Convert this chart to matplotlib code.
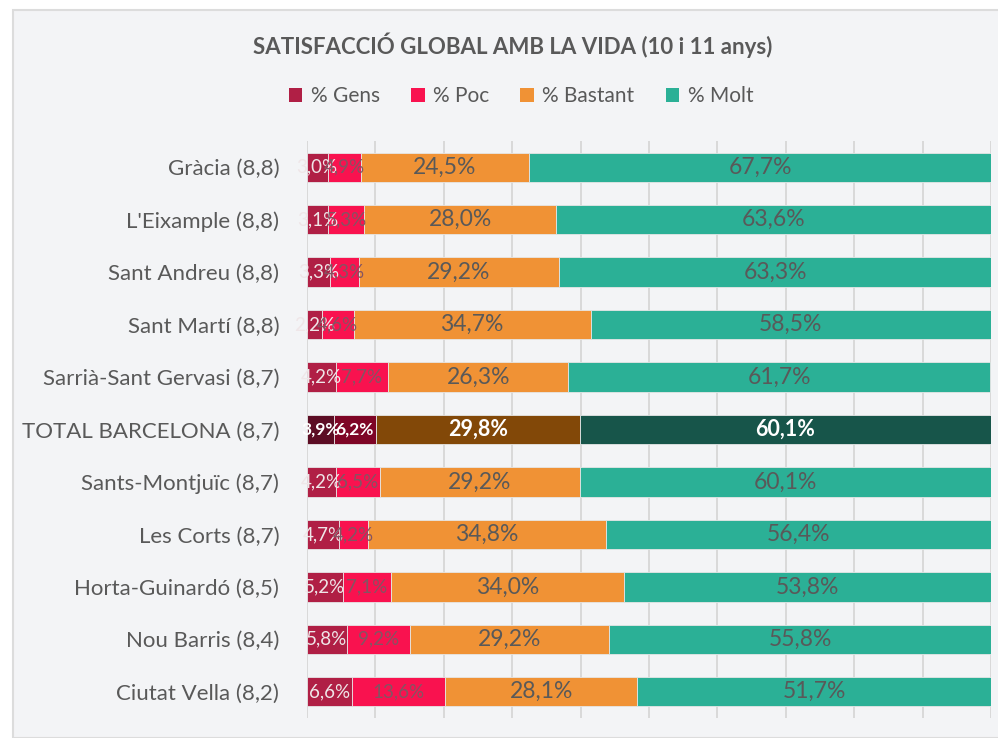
import matplotlib.pyplot as plt
from matplotlib.patches import Rectangle, Patch

plt.rcParams['font.family'] = ['Lato', 'DejaVu Sans']

categories = ['Gràcia (8,8)', "L'Eixample (8,8)", 'Sant Andreu (8,8)', 'Sant Martí (8,8)',
              'Sarrià-Sant Gervasi (8,7)', 'TOTAL BARCELONA (8,7)', 'Sants-Montjuïc (8,7)',
              'Les Corts (8,7)', 'Horta-Guinardó (8,5)', 'Nou Barris (8,4)', 'Ciutat Vella (8,2)']
gens = [3.0, 3.1, 3.3, 2.2, 4.2, 3.9, 4.2, 4.7, 5.2, 5.8, 6.6]
poc = [4.9, 5.3, 4.3, 4.6, 7.7, 6.2, 6.5, 4.2, 7.1, 9.2, 13.6]
bastant = [24.5, 28.0, 29.2, 34.7, 26.3, 29.8, 29.2, 34.8, 34.0, 29.2, 28.1]
molt = [67.7, 63.6, 63.3, 58.5, 61.7, 60.1, 60.1, 56.4, 53.8, 55.8, 51.7]
series_names = ['% Gens', '% Poc', '% Bastant', '% Molt']
total_row = 'TOTAL BARCELONA (8,7)'

colors = ['#b01f45', '#f9124f', '#f09235', '#2bb096']
dark_colors = ['#5c0d24', '#7e0526', '#824808', '#17554a']
label_colors = ['#efe6e8', '#845462', '#595959', '#595959']
label_sizes = [13.5, 13.5, 16.5, 16.5]

fig = plt.figure(figsize=(9.98, 7.38), dpi=100, facecolor='white')
# grey chart panel with a thin border
fig.patches.append(Rectangle((13 / 998, 0), 1, 1 - 10 / 738, transform=fig.transFigure,
                             facecolor='#f3f4f6', edgecolor='#dcdcdc', linewidth=1.5, zorder=-5))

ax = fig.add_axes([307 / 998, 1 - 718 / 738, (991 - 307) / 998, (718 - 141) / 738])
ax.set_facecolor('none')

series = [gens, poc, bastant, molt]
left = [0.0] * len(categories)
for s, vals in enumerate(series):
    for i, v in enumerate(vals):
        is_total = categories[i] == total_row
        c = dark_colors[s] if is_total else colors[s]
        ax.barh(i, v, left=left[i], height=0.56, color=c, edgecolor='#e6e6e6', linewidth=0.6, zorder=2)
        txt = f'{v:.1f}%'.replace('.', ',')
        if is_total:
            ax.text(left[i] + v / 2, i, txt, ha='center', va='center', color='white',
                    fontsize=label_sizes[s] - 1, fontweight='bold', zorder=3)
        else:
            ax.text(left[i] + v / 2, i, txt, ha='center', va='center', color=label_colors[s],
                    fontsize=label_sizes[s], zorder=3)
        left[i] += v

ax.set_xlim(0, 100)
ax.set_ylim(len(categories) - 0.5, -0.5)
ax.set_xticks(range(0, 101, 10))
ax.set_yticks(range(len(categories)))
ax.set_yticklabels(categories, fontsize=16, color='#595959')
ax.tick_params(axis='y', length=0, pad=20)
ax.tick_params(axis='x', length=0, labelbottom=False)
ax.grid(axis='x', color='#d9d9d9', linewidth=1.4, zorder=1)
ax.set_axisbelow(True)
for sp in ax.spines.values():
    sp.set_visible(False)

fig.text(513 / 998, 1 - 45 / 738, 'SATISFACCIÓ GLOBAL AMB LA VIDA (10 i 11 anys)', ha='center', va='center',
         fontsize=16, fontweight='bold', color='#595959')
handles = [Patch(facecolor=c, label=n) for c, n in zip(colors, series_names)]
fig.legend(handles=handles, loc='center', bbox_to_anchor=(521 / 998, 1 - 96 / 738), ncol=4, frameon=False,
           fontsize=15, labelcolor='#595959', handlelength=0.65, handleheight=0.65,
           handletextpad=0.4, columnspacing=1.5)

fig.savefig('out.png', dpi=100, facecolor=fig.get_facecolor())
